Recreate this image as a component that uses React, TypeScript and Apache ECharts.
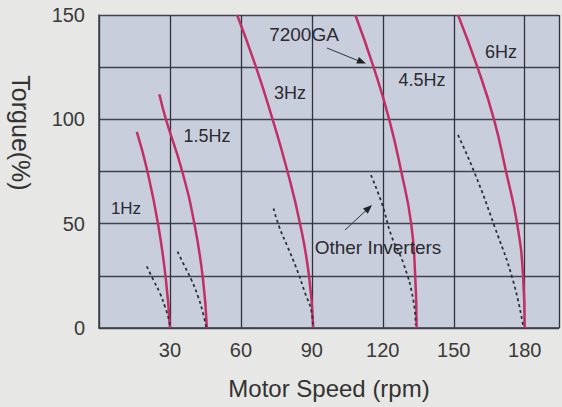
import React, { useEffect, useRef } from "react";
import * as echarts from "echarts";

// Motor speed (rpm) / torque (%) pairs
const hz1Solid = [[16, 94], [20.5, 75], [25.1, 49], [28.3, 23], [30, 0]];
const hz15Solid = [[25.5, 112], [28.3, 100], [35.2, 75], [40.5, 49], [44, 23], [45.6, 0]];
const hz3Solid = [[58.4, 150], [66.4, 125], [73.4, 100], [79.7, 75], [85, 50], [88.8, 25], [90.6, 0]];
const hz45Solid = [[108.4, 150], [116.1, 125], [122.7, 100], [127.8, 75], [132, 50], [133.7, 25], [134.3, 0]];
const hz6Solid = [[151.8, 150], [160, 125], [167, 100], [172.1, 75], [176.8, 50], [179.3, 25], [180, 0]];

const hz1Other = [[20.2, 29.5], [23, 23], [25.8, 16.6], [27.9, 10.2], [29.6, 3.8], [30.2, 0]];
const hz15Other = [[33.2, 36.6], [36.3, 29.4], [39.1, 23], [41.9, 15], [44, 7], [45.4, 0]];
const hz3Other = [[73.8, 57.3], [76.2, 48.5], [79.7, 39], [83.2, 29.4], [86.7, 18.2], [90.2, 5.4], [90.5, 0]];
const hz45Other = [[115, 73.3], [119.6, 59.7], [123.8, 43.7], [128.7, 31], [132.9, 13.4], [133.9, 1.4]];
const hz6Other = [[151.8, 92.5], [158.9, 74.1], [167.3, 48.5], [175, 23], [179.5, 0]];

const xTicks = [30, 60, 90, 120, 150, 180];
const yTickLabels = [0, 50, 100, 150];

const FONT = "'Liberation Sans', Arial, sans-serif";
const RED = "#c22f66";
const DOT = "#2e2f38";

export default function App() {
  const ref = useRef<HTMLDivElement>(null);
  useEffect(() => {
    if (!ref.current) return;
    const chart = echarts.init(ref.current, undefined, { renderer: "svg" });
    const solid = (d: number[][]) => ({
      type: "line",
      data: d,
      smooth: true,
      showSymbol: false,
      lineStyle: { color: RED, width: 2.5 },
    });
    const dotted = (d: number[][]) => ({
      type: "line",
      data: d,
      smooth: true,
      showSymbol: false,
      lineStyle: { color: DOT, width: 1.8, type: [3, 3] },
    });
    const txt = (text: string, x: number, y: number, size: number) => ({
      type: "text",
      x,
      y,
      z: 100,
      style: {
        text,
        fill: "#2a2a30",
        font: `${size}px ${FONT}`,
        align: "center",
        verticalAlign: "middle",
      },
    });
    chart.setOption({
      animation: false,
      backgroundColor: "#e7e7e5",
      grid: {
        left: 99,
        right: 0,
        top: 15,
        bottom: 79,
        show: true,
        backgroundColor: "#c9cedc",
        borderWidth: 0,
      },
      xAxis: {
        type: "value",
        min: 0,
        max: 194.5,
        interval: 30,
        name: "Motor Speed (rpm)",
        nameLocation: "middle",
        nameGap: 48,
        nameTextStyle: { fontSize: 24, color: "#333", fontFamily: FONT },
        axisLine: { show: true, lineStyle: { color: "#3a3e48", width: 1.5 } },
        axisTick: { show: false },
        axisLabel: {
          showMinLabel: false,
          margin: 12,
          fontSize: 20,
          color: "#3a3a3a",
          fontFamily: FONT,
          formatter: (v: number) => (xTicks.includes(v) ? String(v) : ""),
        },
        splitLine: { show: true, lineStyle: { color: "#2f3340", width: 1.3 } },
      },
      yAxis: {
        type: "value",
        min: 0,
        max: 150,
        interval: 25,
        axisLine: { show: true, lineStyle: { color: "#3a3e48", width: 1.5 } },
        axisTick: { show: false },
        axisLabel: {
          margin: 14,
          fontSize: 20,
          color: "#3a3a3a",
          fontFamily: FONT,
          formatter: (v: number) => (yTickLabels.includes(v) ? String(v) : ""),
        },
        splitLine: { show: true, lineStyle: { color: "#40444f", width: 1.3 } },
      },
      series: [
        solid(hz1Solid),
        solid(hz15Solid),
        solid(hz3Solid),
        solid(hz45Solid),
        solid(hz6Solid),
        dotted(hz1Other),
        dotted(hz15Other),
        dotted(hz3Other),
        dotted(hz45Other),
        dotted(hz6Other),
      ],
      graphic: [
        {
          type: "text",
          x: 21,
          y: 133,
          rotation: -Math.PI / 2,
          style: {
            text: "Torgue(%)",
            fill: "#333",
            font: `25px ${FONT}`,
            align: "center",
            verticalAlign: "middle",
          },
        },
        txt("1Hz", 126, 208, 17),
        txt("1.5Hz", 207, 136, 18),
        txt("3Hz", 290, 93, 18),
        txt("7200GA", 304, 34, 19),
        txt("4.5Hz", 422, 80, 18),
        txt("6Hz", 501, 52, 18),
        txt("Other Inverters", 378, 247, 19),
        {
          type: "line",
          z: 100,
          shape: { x1: 327, y1: 48, x2: 359, y2: 61 },
          style: { stroke: "#33343c", lineWidth: 1 },
        },
        {
          type: "polygon",
          z: 100,
          shape: { points: [[366, 63.5], [356.3, 63.5], [358.9, 57]] },
          style: { fill: "#222" },
        },
        {
          type: "line",
          z: 100,
          shape: { x1: 345, y1: 230, x2: 366, y2: 210.5 },
          style: { stroke: "#33343c", lineWidth: 1 },
        },
        {
          type: "polygon",
          z: 100,
          shape: { points: [[372, 205], [367.8, 213.7], [363, 208.5]] },
          style: { fill: "#222" },
        },
      ],
    });
    return () => chart.dispose();
  }, []);
  return (
    <div
      ref={ref}
      style={{ position: "fixed", left: 0, top: 0, width: 562, height: 407 }}
    />
  );
}
